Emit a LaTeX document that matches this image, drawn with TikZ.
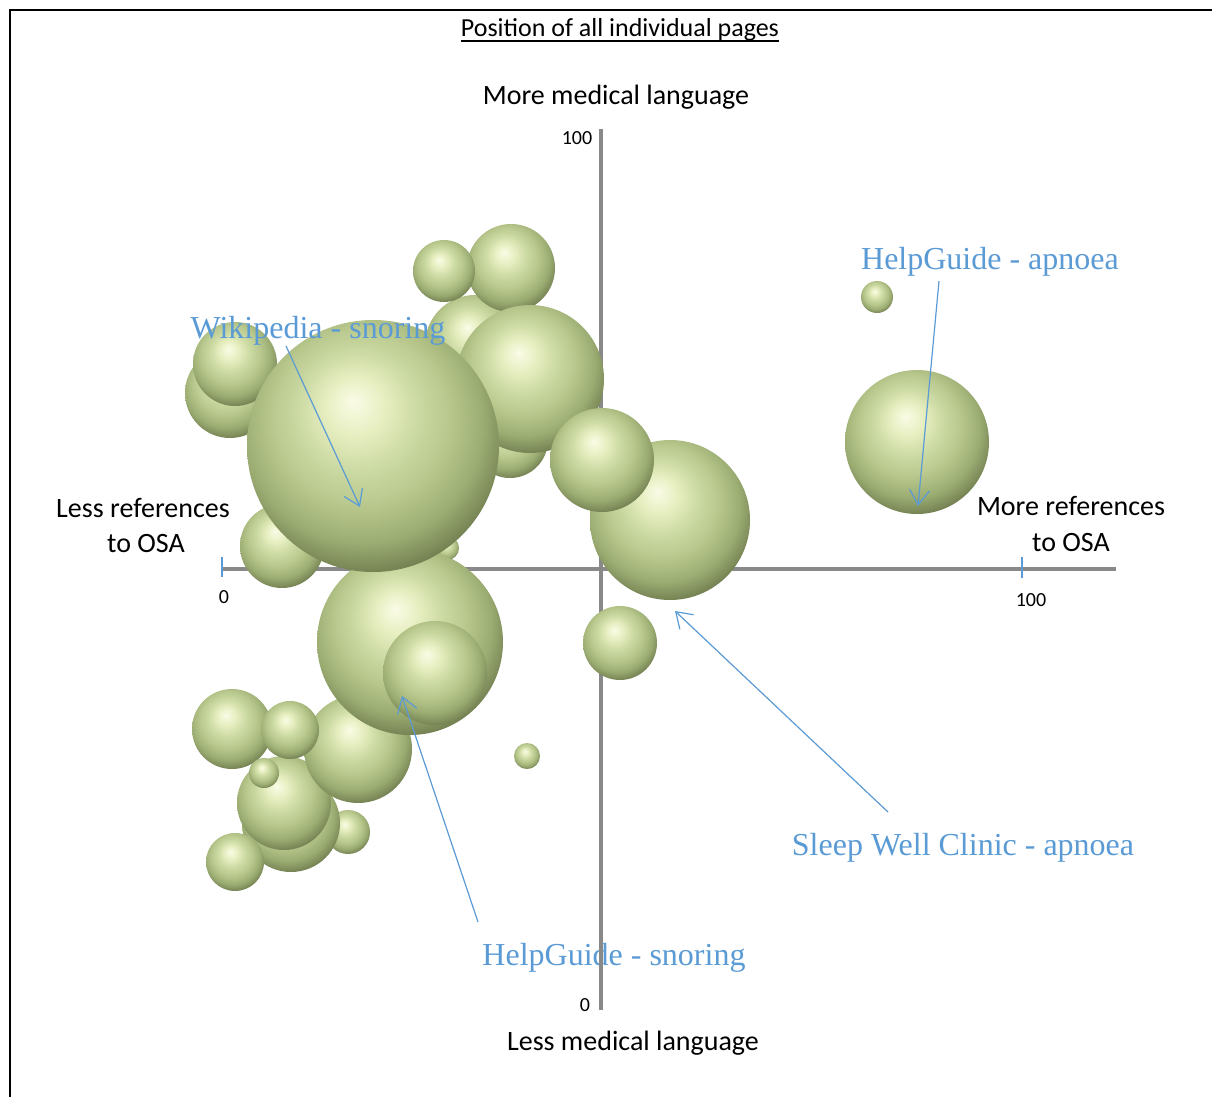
\documentclass[tikz,border=0pt]{standalone}
\usepackage{fontspec}
\setmainfont{Carlito}
\newfontfamily\annfont{Liberation Serif}
\usetikzlibrary{arrows.meta}
\definecolor{bA}{RGB}{250,252,230}
\definecolor{bB}{RGB}{230,238,192}
\definecolor{bC}{RGB}{203,217,162}
\definecolor{bD}{RGB}{183,199,140}
\definecolor{bE}{RGB}{155,172,114}
\definecolor{bF}{RGB}{108,121,76}
\definecolor{bG}{RGB}{84,96,58}
\definecolor{axisgray}{RGB}{137,137,137}
\definecolor{annblue}{RGB}{91,155,213}
\pgfdeclareradialshading{bubshade}{\pgfqpoint{-4bp}{9bp}}{color(0bp)=(bA); color(6bp)=(bB); color(12bp)=(bC); color(18bp)=(bD); color(24bp)=(bE); color(30bp)=(bF); color(35bp)=(bG); color(50bp)=(bG)}
\begin{document}
\begin{tikzpicture}[x=1pt,y=-1pt,
  bubble/.style={circle, inner sep=0pt, outer sep=0pt, shade, shading=bubshade, minimum size=2*#1},
  axlab/.style={font=\fontsize{28}{33}\selectfont, inner sep=0pt, anchor=base},
  ticklab/.style={font=\fontsize{20}{24}\selectfont, inner sep=0pt, anchor=base},
  annlab/.style={font=\annfont\fontsize{32}{38}\selectfont, text=annblue, inner sep=0pt, anchor=base},
  axisline/.style={axisgray, line width=4pt},
  ticks/.style={annblue, line width=1.5pt},
  ann/.style={annblue, line width=1.2pt, -{Straight Barb[length=15pt,width=20pt]}}]
\useasboundingbox (0,0) rectangle (1212,1097);
\fill[white] (0,0) rectangle (1212,1097);
% frame
\draw[black, line width=2pt] (10,1097) -- (10,10) -- (1212,10);
% title
\node[font=\fontsize{26}{30}\selectfont, inner sep=0pt, anchor=base] (title) at (620,37) {Position of all individual pages};
\draw[black, line width=1.6pt] ([yshift=-4pt]title.base west) -- ([yshift=-4pt]title.base east);
% axis titles
\node[axlab] (ytop) at (616,104.5) {More medical language};
\node[axlab] (ybot) at (633,1050) {Less medical language};
\node[axlab] (xl1) at (143,517) {Less references};
\node[axlab] (xl2) at (146,552.5) {to OSA};
\node[axlab] (xr1) at (1071,515) {More references};
\node[axlab] (xr2) at (1071,551.5) {to OSA};
% tick labels
\node[ticklab] (t0x) at (224,603) {0};
\node[ticklab] (t100x) at (1031,606) {100};
\node[ticklab] (t100y) at (577,145) {100};
\node[ticklab] (t0y) at (585,1011.5) {0};
% label under axis
\node[annlab] (hgs) at (614,965) {HelpGuide - snoring};
% axes
\coordinate (xa0) at (222,569);
\coordinate (xa1) at (1116,569);
\coordinate (ya0) at (601,1010);
\coordinate (ya1) at (601,129);
\draw[axisline] (xa0) -- (xa1);
\draw[axisline] (ya0) -- (ya1);
\coordinate (tk0a) at (222,557);
\coordinate (tk0b) at (222,577);
\coordinate (tk1a) at (1022,557);
\coordinate (tk1b) at (1022,578);
\draw[ticks] (tk0a) -- (tk0b);
\draw[ticks] (tk1a) -- (tk1b);
% bubbles, back to front
\node[bubble=50pt] (c1) at (475,345) {};
\node[bubble=38pt] (c2) at (510,440) {};
\node[bubble=44pt] (c3) at (511,268) {};
\node[bubble=31pt] (c4) at (444,271) {};
\node[bubble=74pt] (c5) at (530,379) {};
\node[bubble=45pt] (c6) at (230,393) {};
\node[bubble=42pt] (c7) at (235,364) {};
\node[bubble=12pt] (c8) at (447,548) {};
\node[bubble=14pt] (c9) at (425,562) {};
\node[bubble=42pt] (c10) at (282,546) {};
\node[bubble=22pt] (c11) at (348,832) {};
\node[bubble=49pt] (c12) at (291,823) {};
\node[bubble=47pt] (c13) at (284,803) {};
\node[bubble=29pt] (c14) at (235,862) {};
\node[bubble=54pt] (c15) at (358,749) {};
\node[bubble=40pt] (c16) at (232,729) {};
\node[bubble=29pt] (c17) at (290,730) {};
\node[bubble=15pt] (c18) at (264,773) {};
\node[bubble=93pt] (c19) at (410,642) {};
\node[bubble=126pt] (wik) at (373,446) {};
\node[bubble=52pt] (hgsb) at (435,673) {};
\node[bubble=80pt] (swc) at (670,520) {};
\node[bubble=52pt] (c20) at (602,460) {};
\node[bubble=37pt] (c21) at (620,643) {};
\node[bubble=13pt] (c22) at (527,756) {};
\node[bubble=16pt] (c23) at (877,297) {};
\node[bubble=72pt] (hga) at (917,442) {};
% annotation labels
\node[annlab] (wikl) at (318,338.5) {Wikipedia - snoring};
\node[annlab] (hgal) at (990,269.5) {HelpGuide - apnoea};
\node[annlab] (swcl) at (963,855) {Sleep Well Clinic - apnoea};
% annotation arrows
\coordinate (wikS) at (286,346);
\coordinate (wikE) at (360,507);
\coordinate (hgaS) at (939,281);
\coordinate (hgaE) at (918,506);
\coordinate (swcS) at (888,812);
\coordinate (swcE) at (675,611);
\coordinate (hgsS) at (478,922);
\coordinate (hgsE) at (402,696);
\draw[ann] (wikS) -- (wikE);
\draw[ann] (hgaS) -- (hgaE);
\draw[ann] (swcS) -- (swcE);
\draw[ann] (hgsS) -- (hgsE);
\end{tikzpicture}
\end{document}
